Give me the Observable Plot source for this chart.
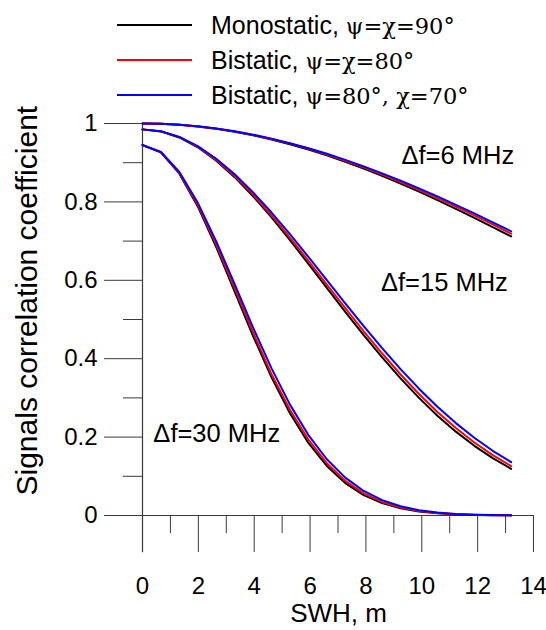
<!DOCTYPE html>
<html>
<head>
<meta charset="utf-8">
<script src="https://cdn.jsdelivr.net/npm/d3@7"></script>
<script src="https://cdn.jsdelivr.net/npm/@observablehq/plot@0.6"></script>
<style>
  html, body { margin: 0; padding: 0; background: #fff; }
  #wrap { position: relative; width: 546px; height: 630px; overflow: hidden; }
  #legend { position: absolute; left: 0; top: 0; font-family: Arial, "Liberation Sans", sans-serif; font-size: 25px; color: #000; }
  .row { position: absolute; left: 117px; height: 30px; white-space: nowrap; }
  .sw { position: absolute; left: 0; width: 75px; height: 2px; top: 14px; }
  .lab { position: absolute; left: 94px; top: 0; line-height: 30px; }
  svg { display: block; }
</style>
</head>
<body>
<div id="wrap">
  <div id="chart"></div>
  <div id="legend"></div>
</div>
<script>
// SWH, m
const swh = [0, 0.66, 1.32, 1.98, 2.64, 3.30, 3.96, 4.62, 5.28, 5.94, 6.60, 7.26, 7.92, 8.58, 9.24, 9.90, 10.56, 11.22, 11.88, 12.54, 13.20];

// Δf = 6 MHz
const mono6   = [1, 0.9992, 0.9966, 0.9924, 0.9865, 0.9790, 0.9699, 0.9592, 0.9471, 0.9335, 0.9186, 0.9023, 0.8849, 0.8663, 0.8466, 0.8260, 0.8046, 0.7823, 0.7594, 0.7359, 0.7120];
const bi80_6  = [1, 0.9992, 0.9967, 0.9926, 0.9869, 0.9796, 0.9707, 0.9604, 0.9486, 0.9354, 0.9208, 0.9050, 0.8880, 0.8699, 0.8507, 0.8306, 0.8096, 0.7879, 0.7654, 0.7425, 0.7189];
const bi8070_6= [1, 0.9992, 0.9968, 0.9928, 0.9872, 0.9801, 0.9715, 0.9614, 0.9498, 0.9369, 0.9227, 0.9073, 0.8907, 0.8729, 0.8542, 0.8345, 0.8139, 0.7926, 0.7706, 0.7480, 0.7250];

// Δf = 15 MHz
const mono15   = [0.985, 0.9798, 0.9644, 0.9393, 0.9052, 0.8631, 0.8144, 0.7603, 0.7024, 0.6420, 0.5807, 0.5197, 0.4603, 0.4033, 0.3497, 0.3000, 0.2547, 0.2139, 0.1778, 0.1462, 0.1190];
const bi80_15  = [0.985, 0.9799, 0.9650, 0.9405, 0.9072, 0.8662, 0.8186, 0.7657, 0.7089, 0.6496, 0.5891, 0.5288, 0.4699, 0.4132, 0.3597, 0.3099, 0.2642, 0.2230, 0.1863, 0.1540, 0.1261];
const bi8070_15= [0.985, 0.9801, 0.9657, 0.9421, 0.9100, 0.8704, 0.8243, 0.7729, 0.7176, 0.6597, 0.6005, 0.5412, 0.4830, 0.4268, 0.3734, 0.3235, 0.2775, 0.2357, 0.1982, 0.1651, 0.1361];

// Δf = 30 MHz
const mono30   = [0.945, 0.9262, 0.8719, 0.7884, 0.6849, 0.5714, 0.4579, 0.3525, 0.2607, 0.1851, 0.1263, 0.0828, 0.0521, 0.0315, 0.0183, 0.0102, 0.0055, 0.0028, 0.0014, 0.0007, 0.0003];
const bi80_30  = [0.945, 0.9267, 0.8738, 0.7923, 0.6909, 0.5793, 0.4671, 0.3602, 0.2699, 0.1935, 0.1334, 0.0885, 0.0564, 0.0346, 0.0204, 0.0115, 0.0063, 0.0033, 0.0017, 0.0008, 0.0004];
const bi8070_30= [0.945, 0.9274, 0.8764, 0.7976, 0.6990, 0.5899, 0.4795, 0.3753, 0.2828, 0.2053, 0.1435, 0.0966, 0.0626, 0.0391, 0.0235, 0.0136, 0.0076, 0.0041, 0.0021, 0.0010, 0.0005];

const seriesNames = ["Monostatic", "Bistatic 80", "Bistatic 80/70"];
const seriesColors = ["#000000", "#ff0000", "#0000ff"];
const legendLabels = [["Monostatic, ", "ψ=χ=90°"], ["Bistatic, ", "ψ=χ=80°"], ["Bistatic, ", "ψ=80°, χ=70°"]];
const bandLabels = ["Δf=6 MHz", "Δf=15 MHz", "Δf=30 MHz"];

const xMajor = [0, 2, 4, 6, 8, 10, 12, 14];
const xMinor = [1, 3, 5, 7, 9, 11, 13];
const yMajor = [0, 0.2, 0.4, 0.6, 0.8, 1];
const yMinor = [0.1, 0.3, 0.5, 0.7, 0.9];

const groups = [
  ["6", [mono6, bi80_6, bi8070_6]],
  ["15", [mono15, bi80_15, bi8070_15]],
  ["30", [mono30, bi80_30, bi8070_30]]
];
const rows = [];
groups.forEach(([band, arrs]) => {
  arrs.forEach((arr, si) => {
    arr.forEach((v, i) => rows.push({band, series: seriesNames[si], key: band + "-" + si, order: si, x: swh[i], y: v}));
  });
});
rows.sort((a, b) => a.order - b.order);

const font = 'Arial, "Liberation Sans", sans-serif';
const axisColor = "#3a3a3a";

const chart = Plot.plot({
  width: 546,
  height: 630,
  marginTop: 123,
  marginLeft: 142,
  marginRight: 13,
  marginBottom: 115,
  style: {fontFamily: font, background: "white", overflow: "visible"},
  x: {domain: [0, 14]},
  y: {domain: [0, 1]},
  color: {domain: seriesNames, range: seriesColors},
  marks: [
    Plot.axisX({anchor: "bottom", ticks: xMajor, tickSize: 37, tickPadding: 24, fontSize: 24, tickFormat: d => String(d), stroke: axisColor, color: "#000", label: null}),
    Plot.axisX({anchor: "bottom", ticks: xMinor, tickSize: 18, tickFormat: () => "", stroke: axisColor, label: null}),
    Plot.axisY({anchor: "left", ticks: yMajor, tickSize: 38, tickPadding: 7, fontSize: 24, tickFormat: d => String(d), stroke: axisColor, color: "#000", label: null}),
    Plot.axisY({anchor: "left", ticks: yMinor, tickSize: 19, tickFormat: () => "", stroke: axisColor, label: null}),
    Plot.ruleY([0], {x1: -1.36, x2: 14, stroke: axisColor, strokeWidth: 1}),
    Plot.ruleX([0], {y1: -0.095, y2: 1, stroke: axisColor, strokeWidth: 1.2}),
    Plot.line(rows, {x: "x", y: "y", z: "key", stroke: "series", strokeWidth: 2, curve: "linear"}),
    Plot.text([bandLabels[0]], {x: 11.29, y: 0.918, text: d => d, fontSize: 25.5, fill: "#000"}),
    Plot.text([bandLabels[1]], {x: 10.81, y: 0.594, text: d => d, fontSize: 25.5, fill: "#000"}),
    Plot.text([bandLabels[2]], {x: 2.66, y: 0.209, text: d => d, fontSize: 25.5, fill: "#000"}),
    Plot.text(["SWH, m"], {x: 7.02, y: 0, dy: 98, text: d => d, fontSize: 26, fill: "#000"}),
    Plot.text(["Signals correlation coefficient"], {x: 0, y: 0.548, dx: -115, rotate: -90, text: d => d, fontSize: 30, fill: "#000"})
  ]
});
document.getElementById("chart").appendChild(chart);

// legend
const legend = document.getElementById("legend");
const tops = [10, 45, 80];
legendLabels.forEach((lab, i) => {
  const row = document.createElement("div");
  row.className = "row";
  row.style.top = tops[i] + "px";
  const sw = document.createElement("div");
  sw.className = "sw";
  sw.style.background = seriesColors[i];
  row.appendChild(sw);
  const t = document.createElement("div");
  t.className = "lab";
  const a = document.createElement("span");
  a.textContent = lab[0];
  const b = document.createElement("span");
  b.style.fontFamily = '"DejaVu Serif", serif';
  b.style.fontSize = "22.5px";
  b.textContent = lab[1];
  t.appendChild(a); t.appendChild(b);
  row.appendChild(t);
  legend.appendChild(row);
});
</script>
</body>
</html>
